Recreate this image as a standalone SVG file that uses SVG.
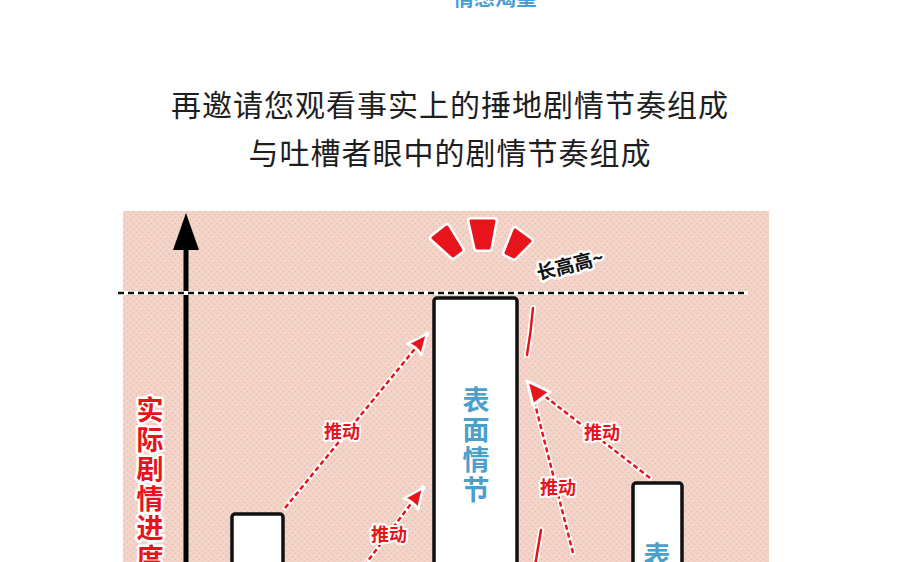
<svg xmlns="http://www.w3.org/2000/svg" width="900" height="562" viewBox="0 0 900 562">
<defs>
<pattern id="dots" width="6" height="6" patternUnits="userSpaceOnUse">
<rect width="6" height="6" fill="#f4d5c9"/>
<circle cx="1.5" cy="1.5" r="0.9" fill="#e8bfb2"/>
<circle cx="4.5" cy="4.5" r="0.9" fill="#e8bfb2"/>
</pattern>
<marker id="ah" markerUnits="userSpaceOnUse" markerWidth="28" markerHeight="26" viewBox="0 0 28 26" refX="23" refY="13" orient="auto">
<path d="M3,4 L23,13 L3,22 Q7,13 3,4 Z" fill="#e8141c" stroke="#fff" stroke-width="2.5" stroke-linejoin="round"/>
</marker>
<style>
.title{font-family:"Noto Sans CJK SC","Noto Sans",sans-serif;font-size:30px;fill:#1e1e1e;text-anchor:middle;letter-spacing:1px}
.top{font-family:"Noto Sans CJK SC",sans-serif;font-size:21px;font-weight:700;fill:#4b9cd3;text-anchor:middle}
.lbl{font-family:"Noto Sans CJK SC",sans-serif;font-weight:700;font-size:18px;fill:#e8141c;stroke:#fff;stroke-width:4;paint-order:stroke;stroke-linejoin:round;text-anchor:middle}
.ylbl{font-family:"Noto Sans CJK SC",sans-serif;font-weight:700;font-size:27px;fill:#e8141c;stroke:#fff;stroke-width:5;paint-order:stroke;stroke-linejoin:round;text-anchor:middle}
.blue{font-family:"Noto Sans CJK SC",sans-serif;font-weight:700;font-size:27px;fill:#4aa0c8;text-anchor:middle}
.bar{fill:#fff;stroke:#111;stroke-width:3.5}
.under{fill:none;stroke:#fff;stroke-width:5;stroke-linecap:round}
.dash{fill:none;stroke:#e8141c;stroke-width:2.5;stroke-dasharray:5 3}
.markw{fill:#fff;stroke:#fff;stroke-width:8;stroke-linejoin:round}
.mark{fill:#e8141c;stroke:#e8141c;stroke-width:3;stroke-linejoin:round}
.speed{fill:none;stroke:#e8141c;stroke-width:2.5;stroke-linecap:round}
.speedu{fill:none;stroke:#fff;stroke-width:6;stroke-linecap:round}
</style>
</defs>
<rect width="900" height="562" fill="#fff"/>
<g id="top-text"><text class="top" x="495" y="5">情感渴望</text></g>
<g id="title">
<text class="title" x="450" y="116">再邀请您观看事实上的捶地剧情节奏组成</text>
<text class="title" x="450" y="164">与吐槽者眼中的剧情节奏组成</text>
</g>
<rect id="panel" x="123" y="211" width="646" height="360" fill="url(#dots)"/>
<g id="axis">
<line x1="186" y1="245" x2="186" y2="570" stroke="#000" stroke-width="5"/>
<polygon points="186,213 199,250 173,250" fill="#000"/>
</g>
<g id="top-line">
<line x1="118" y1="293" x2="748" y2="293" stroke="#fff" stroke-width="4"/>
<line x1="118" y1="293" x2="748" y2="293" stroke="#111" stroke-width="2.5" stroke-dasharray="6 4"/>
</g>
<g id="burst">
<path class="markw" d="M433,238 L447,227 L461,250 L453,256 Z"/>
<path class="markw" d="M471,221 L494,221 L489,248 L477,248 Z"/>
<path class="markw" d="M515,230 L530,241 L514,257 L506,253 Z"/>
<path class="mark" d="M433,238 L447,227 L461,250 L453,256 Z"/>
<path class="mark" d="M471,221 L494,221 L489,248 L477,248 Z"/>
<path class="mark" d="M515,230 L530,241 L514,257 L506,253 Z"/>
</g>
<g id="grow-label"><text x="570" y="272" transform="rotate(-14 570 265)" font-family="'Noto Sans CJK SC',sans-serif" font-weight="700" font-size="19" fill="#111" stroke="#fff" stroke-width="5" paint-order="stroke" stroke-linejoin="round" text-anchor="middle">长高高~</text></g>
<g id="y-label">
<text class="ylbl"><tspan x="150" y="420">实</tspan><tspan x="150" y="449.5">际</tspan><tspan x="150" y="479">剧</tspan><tspan x="150" y="508.5">情</tspan><tspan x="150" y="538">进</tspan><tspan x="150" y="568">度</tspan></text>
</g>
<g id="bar-left"><rect class="bar" x="232" y="514" width="51" height="70" rx="3"/></g>
<g id="bar-surface">
<rect class="bar" x="434" y="298" width="83" height="290" rx="3"/>
<text class="blue"><tspan x="476" y="410">表</tspan><tspan x="476" y="440">面</tspan><tspan x="476" y="470">情</tspan><tspan x="476" y="500">节</tspan></text>
</g>
<g id="bar-right">
<rect class="bar" x="633" y="483" width="49" height="100" rx="3"/>
<text class="blue" x="657" y="566">表</text>
</g>
<g id="connectors">
<path class="under" d="M285,508 L427,334"/>
<path class="dash" d="M285,508 L427,334" marker-end="url(#ah)"/>
<path class="under" d="M364,566 L423,488"/>
<path class="dash" d="M364,566 L423,488" marker-end="url(#ah)"/>
<path class="under" d="M650,478 L542,394"/>
<path class="dash" d="M650,478 L542,394"/>
<path class="under" d="M573,553 L534,400"/>
<path class="dash" d="M573,553 L534,400"/>
<path d="M527,381 L550,392 L533,405 Z" fill="#e8141c" stroke="#fff" stroke-width="3" stroke-linejoin="round"/>
<path class="speedu" d="M533,308 Q531,332 527,355"/>
<path class="speed" d="M533,308 Q531,332 527,355"/>
<path class="speedu" d="M541,530 Q538,548 535,566"/>
<path class="speed" d="M541,530 Q538,548 535,566"/>
<text class="lbl" x="342" y="438">推动</text>
<text class="lbl" x="389" y="541">推动</text>
<text class="lbl" x="602" y="439">推动</text>
<text class="lbl" x="558" y="494">推动</text>
</g>
</svg>
